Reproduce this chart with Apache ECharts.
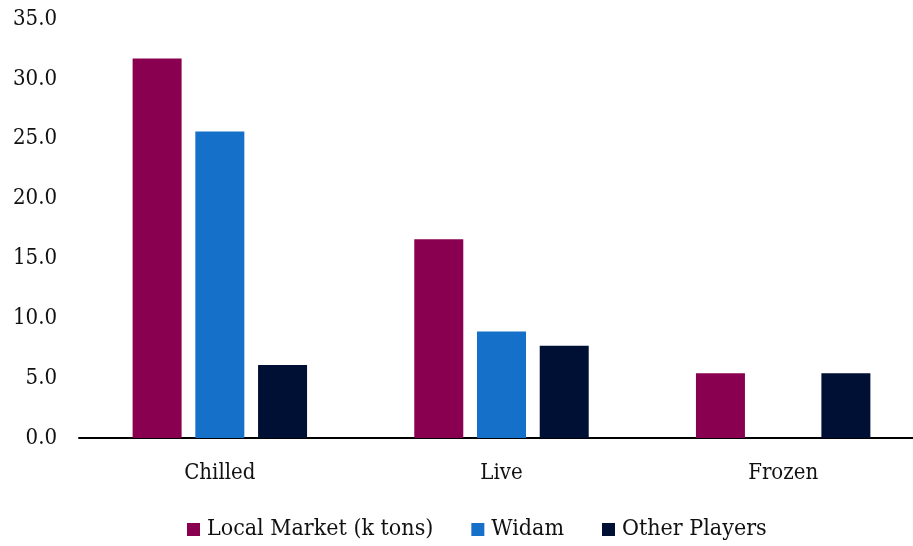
<!DOCTYPE html>
<html>
<head>
<meta charset="utf-8">
<script src="https://cdn.jsdelivr.net/npm/echarts@6/dist/echarts.min.js"></script>
<style>
  html, body { margin: 0; padding: 0; background: #fff; }
  #chart { width: 913px; height: 546px; }
</style>
</head>
<body>
<div id="chart"></div>
<script>
// Market volumes by product type (thousand tons)
const categories = ['Chilled', 'Live', 'Frozen'];
const localMarket = [31.7, 16.6, 5.4];
const widam = [25.6, 8.9, 0];
const otherPlayers = [6.1, 7.7, 5.4];
const yTicks = { min: 0, max: 35, interval: 5 };

const FONT = '"DejaVu Serif Condensed", "DejaVu Serif", "Liberation Serif", serif';
const FONT_SIZE = 22;

const chart = echarts.init(document.getElementById('chart'), null, { renderer: 'canvas' });

const barBase = { type: 'bar', barWidth: 49, barGap: '28%' };

chart.setOption({
  animation: false,
  textStyle: { fontFamily: FONT },
  // plot area runs slightly past the right edge of the canvas
  grid: { left: 79, top: 19, width: 845, height: 419, containLabel: false, outerBoundsMode: 'none' },
  legend: {
    top: 513,
    left: 182,
    icon: 'rect',
    itemWidth: 13,
    itemHeight: 13,
    itemGap: 38,
    textStyle: { fontFamily: FONT, fontSize: 23, color: '#111', padding: [0, 0, 0, 2] },
    data: ['Local Market (k tons)', 'Widam', 'Other Players']
  },
  xAxis: {
    type: 'category',
    data: categories,
    axisLine: { lineStyle: { color: '#000', width: 2 } },
    axisTick: { show: false },
    axisLabel: { fontFamily: FONT, fontSize: FONT_SIZE, color: '#111', margin: 24 }
  },
  yAxis: {
    type: 'value',
    min: yTicks.min,
    max: yTicks.max,
    interval: yTicks.interval,
    axisLine: { show: false },
    axisTick: { show: false },
    splitLine: { show: false },
    axisLabel: {
      fontFamily: FONT, fontSize: FONT_SIZE, color: '#111', margin: 22,
      formatter: v => v.toFixed(1)
    }
  },
  series: [
    Object.assign({ name: 'Local Market (k tons)', data: localMarket, itemStyle: { color: '#8A0050' } }, barBase),
    Object.assign({ name: 'Widam', data: widam, itemStyle: { color: '#1470C8' } }, barBase),
    Object.assign({ name: 'Other Players', data: otherPlayers, itemStyle: { color: '#001035' } }, barBase)
  ]
});
</script>
</body>
</html>
